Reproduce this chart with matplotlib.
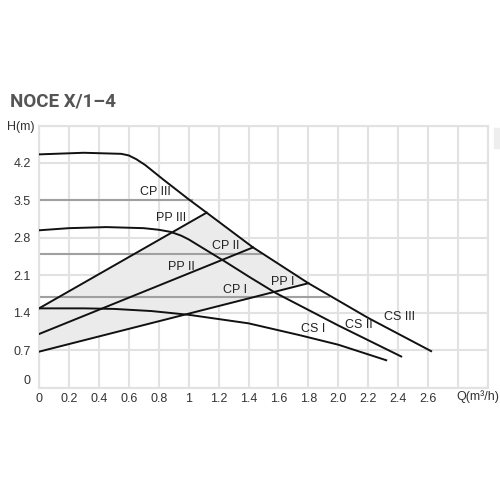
import numpy as np
import matplotlib.pyplot as plt
from matplotlib.patches import Rectangle

plt.rcParams['font.family'] = ['Liberation Sans', 'DejaVu Sans']

# constant speed curves (Q in m3/h, H in m)
cs3_q = [0, 0.3, 0.55, 0.6, 0.65, 0.71, 0.83, 1.0, 1.12, 1.43, 1.8, 2.2, 2.62]
cs3_h = [4.36, 4.39, 4.37, 4.34, 4.27, 4.16, 3.89, 3.52, 3.27, 2.62, 1.95, 1.30, 0.68]
cs2_q = [0, 0.2, 0.45, 0.7, 0.8, 0.88, 0.95, 1.0, 1.07, 1.24, 1.41, 1.58, 2.0, 2.42]
cs2_h = [2.94, 2.98, 3.0, 2.98, 2.95, 2.91, 2.84, 2.77, 2.65, 2.36, 2.06, 1.77, 1.16, 0.58]
cs1_q = [0, 0.3, 0.5, 0.75, 1.0, 1.4, 1.74, 2.0, 2.32]
cs1_h = [1.48, 1.48, 1.47, 1.43, 1.36, 1.20, 0.98, 0.80, 0.51]

# proportional pressure lines (start, end)
pp3_q = [0, 1.12]
pp3_h = [1.48, 3.27]
pp2_q = [0, 1.43]
pp2_h = [1.0, 2.62]
pp1_q = [0, 1.8]
pp1_h = [0.67, 1.95]

# constant pressure lines
cp_h = [3.5, 2.5, 1.7]
cp_qend = [1.02, 1.48, 1.94]

x_labels = ['0', '0.2', '0.4', '0.6', '0.8', '1', '1.2', '1.4', '1.6', '1.8', '2.0', '2.2', '2.4', '2.6']
y_labels = ['0', '0.7', '1.4', '2.1', '2.8', '3.5', '4.2']

labels = [('CP III', 0.78, 3.65), ('PP III', 0.885, 3.17), ('CP II', 1.25, 2.65),
          ('PP II', 0.95, 2.26), ('CP I', 1.31, 1.82), ('PP I', 1.625, 1.98),
          ('CS I', 1.83, 1.09), ('CS II', 2.14, 1.16), ('CS III', 2.41, 1.31)]

fig = plt.figure(figsize=(5, 5), dpi=100)
ax = fig.add_axes([0.078, 0.225, 0.898, 0.524])

# shaded working area
poly_q = [pp3_q[0], pp3_q[1]] + [q for q in cs3_q if pp3_q[1] < q < pp1_q[1]] + [pp1_q[1], pp1_q[0]]
poly_h = [pp3_h[0], pp3_h[1]] + [h for q, h in zip(cs3_q, cs3_h) if pp3_q[1] < q < pp1_q[1]] + [pp1_h[1], pp1_h[0]]
ax.fill(poly_q, poly_h, color='#ebebeb', zorder=1, lw=0)

for h, qe in zip(cp_h, cp_qend):
    ax.plot([0, qe], [h, h], color='#a0a0a0', lw=1.5, zorder=2)

for q, h in [(cs3_q, cs3_h), (cs2_q, cs2_h), (cs1_q, cs1_h),
             (pp3_q, pp3_h), (pp2_q, pp2_h), (pp1_q, pp1_h)]:
    ax.plot(q, h, color='#111111', lw=1.4, zorder=3, solid_joinstyle='round')

for txt, x, y in labels:
    ax.text(x, y, txt, fontsize=9, color='#222222', ha='center', va='center', zorder=4)

ax.set_xlim(0, 3.0)
ax.set_ylim(0, 4.9)
ax.set_xticks(np.arange(0, 3.01, 0.2))
ax.set_xticklabels(x_labels + ['', ''])
ax.set_yticks(np.arange(0, 4.91, 0.7))
ax.set_yticklabels(y_labels + [''])
ax.get_yticklabels()[0].set_verticalalignment('bottom')
ax.grid(True, color='#e2e2e2', lw=1.5, zorder=0)
ax.set_axisbelow(True)
for s in ax.spines.values():
    s.set_color('#e2e2e2')
    s.set_linewidth(1.5)
ax.tick_params(axis='x', length=0, labelsize=9, labelcolor='#333333', pad=4)
ax.tick_params(axis='y', length=0, labelsize=9, labelcolor='#333333', pad=6)

ax.text(2.93, -0.17, 'Q(m\u00b3/h)', fontsize=9, color='#333333', ha='center', va='center',
        clip_on=False)
ax.text(-0.12, 4.87, 'H(m)', fontsize=9, color='#333333', ha='center', va='center',
        clip_on=False)

fig.text(0.02, 0.797, 'NOCE X/1\u20134', fontsize=13.5, fontweight='bold', color='#555555',
         family=['Roboto', 'DejaVu Sans'], ha='left', va='center')
fig.patches.append(Rectangle((0.988, 0.704), 0.012, 0.04, transform=fig.transFigure,
                             color='#eeeeee', zorder=0))

fig.savefig('out.png')
